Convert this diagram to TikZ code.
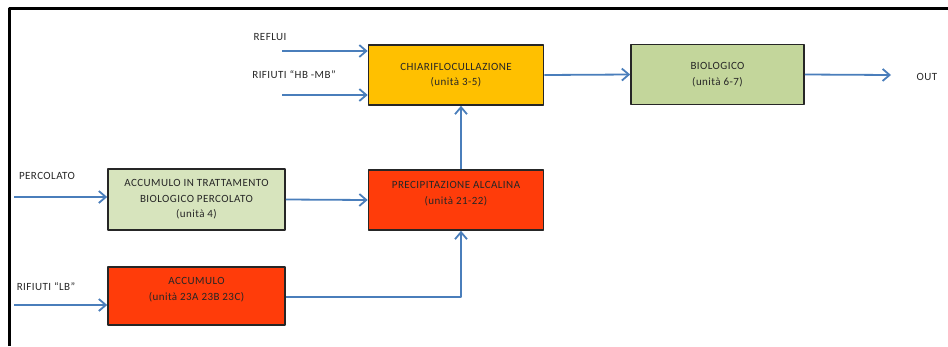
\documentclass[tikz,border=0pt]{standalone}
\usepackage{fontspec}
\setmainfont{Carlito}[LetterSpace=4]
\usetikzlibrary{arrows.meta}
\definecolor{flussi}{HTML}{4A7EBB}
\definecolor{arancio}{HTML}{FFC000}
\definecolor{verdebio}{HTML}{C3D69B}
\definecolor{verdechiaro}{HTML}{D7E4BD}
\definecolor{rosso}{HTML}{FF3C0A}
\begin{document}
\begin{tikzpicture}[x=1pt, y=-1pt, font=\fontsize{11}{15.5}\selectfont, line join=round, >={Straight Barb[length=7pt,width=12pt]},
	blocco/.style={draw=black!85, line width=1.6pt, minimum width=175pt, minimum height=60pt, inner sep=0pt, align=center, text=black!85},
	flusso/.style={->, draw=flussi, line width=1.8pt},
	etich/.style={text=black!85, inner sep=0pt}]
	\useasboundingbox (0,0) rectangle (948,346);
	\draw[line width=3pt] (9,346)--(9,8)--(948,8);
	\node[blocco, fill=arancio] (chiari) at (456,75) {CHIARIFLOCULLAZIONE\\(unità 3-5)};
	\node[blocco, fill=verdebio, minimum width=173pt] (bio) at (717.5,74.5) {BIOLOGICO\\(unità 6-7)};
	\node[blocco, fill=verdechiaro, minimum width=177pt, minimum height=61pt] (accperc) at (196.5,199.5) {ACCUMULO IN TRATTAMENTO\\BIOLOGICO PERCOLATO\\(unità 4)};
	\node[blocco, fill=rosso, text depth=14pt] (precip) at (456,200) {PRECIPITAZIONE ALCALINA\\(unità 21-22)};
	\node[blocco, fill=rosso, minimum width=177pt, minimum height=58pt, text depth=14pt] (accumulo) at (196.5,296) {ACCUMULO\\(unità 23A 23B 23C)};
	\node[etich] (reflui) at (270,37) {REFLUI};
	\node[etich] (hbmb) at (294,75) {RIFIUTI “HB -MB”};
	\node[etich] (percolato) at (47,176) {PERCOLATO};
	\node[etich] (lb) at (46,287) {RIFIUTI “LB”};
	\node[etich] (out) at (927,77) {OUT};
	\coordinate (reflui in) at (282,51);
	\coordinate (hbmb in) at (282,95);
	\coordinate (percolato in) at (14,197);
	\coordinate (lb in) at (14,305);
	\coordinate (out end) at (891,75);
	\draw[flusso] (reflui in)--(chiari.west |- reflui in);
	\draw[flusso] (hbmb in)--(chiari.west |- hbmb in);
	\draw[flusso] (percolato in)--(accperc.west |- percolato in);
	\draw[flusso] (lb in)--(accumulo.west |- lb in);
	\draw[flusso] (chiari.east)--(bio.west);
	\draw[flusso] (bio.east)--(out end);
	\draw[flusso] (accperc.east)--(precip.west);
	\draw[flusso] ([xshift=5pt]precip.north)--([xshift=5pt]chiari.south);
	\draw[flusso] ([yshift=-1pt]accumulo.east) -| ([xshift=5pt]precip.south);
\end{tikzpicture}
\end{document}
